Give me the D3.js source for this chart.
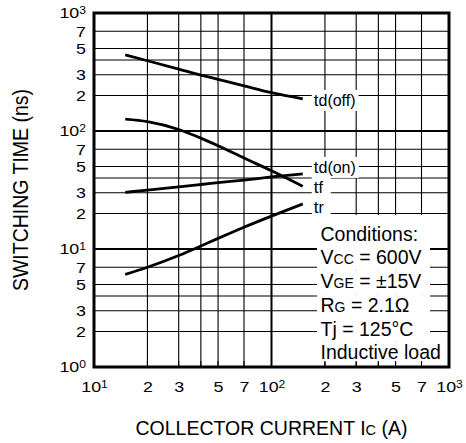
<!DOCTYPE html>
<html><head><meta charset="utf-8">
<script src="https://cdn.jsdelivr.net/npm/d3@7"></script>
<style>
body{margin:0;background:#fff}
svg{display:block;font-family:"Liberation Sans",Arial,Helvetica,sans-serif}
</style>
</head><body>
<svg id="chart" width="466" height="443"></svg>
<script>
// ---- data ----
const current = [15, 20, 30, 40, 50, 70, 100, 150];          // Ic (A)
const tdOff   = [441, 394, 335, 298, 274, 241, 211, 187];    // ns
const tdOn    = [30.2, 31.6, 33.6, 35.2, 36.5, 38.4, 40.8, 43.3];
const tFall   = [126, 120, 103, 87, 75, 59, 46, 34];
const tRise   = [6.1, 7.0, 8.8, 10.6, 12.3, 15.3, 19.0, 24.1];
const seriesNames = [["t","d(off)"], ["t","d(on)"], ["t","f"], ["t","r"]];

const xTickValues = [10, 20, 30, 50, 70, 100, 200, 300, 500, 700, 1000];
const xTickLabels = ["10^1","2","3","5","7","10^2","2","3","5","7","10^3"];
const yTickValues = [1, 2, 3, 5, 7, 10, 20, 30, 50, 70, 100, 200, 300, 500, 700, 1000];
const yTickLabels = ["10^0","2","3","5","7","10^1","2","3","5","7","10^2","2","3","5","7","10^3"];
const gridMultipliers = [2, 3, 4, 5, 7];
const xDecades = [10, 100, 1000];
const yDecades = [1, 10, 100, 1000];

const conditionLines = [
  [["Conditions:", 0]],
  [["V", 0], ["CC", 1], [" = 600V", 0]],
  [["V", 0], ["GE", 1], [" = \u00B115V", 0]],
  [["R", 0], ["G", 1], [" = 2.1\u03A9", 0]],
  [["Tj = 125\u00B0C", 0]],
  [["Inductive load", 0]]
];
const xTitle = [["COLLECTOR CURRENT I", 0], ["C", 1], [" (A)", 0]];
const yTitle = "SWITCHING TIME (ns)";

// ---- layout ----
const svg = d3.select("#chart");
const L = 94, R = 449, T = 13, B = 367;
const x = d3.scaleLog().domain([10, 1000]).range([L, R]);
const y = d3.scaleLog().domain([1, 1000]).range([B, T]);

// grid
const grid = svg.append("g");
const xMinor = xDecades.slice(0, -1).flatMap(d => gridMultipliers.map(m => m * d));
const yMinor = yDecades.slice(0, -1).flatMap(d => gridMultipliers.map(m => m * d));
grid.selectAll(".vx").data(xMinor).join("line")
  .attr("x1", d => x(d)).attr("x2", d => x(d)).attr("y1", T).attr("y2", B)
  .attr("stroke", "#000").attr("stroke-width", 1.1);
grid.selectAll(".hy").data(yMinor).join("line")
  .attr("y1", d => y(d)).attr("y2", d => y(d)).attr("x1", L).attr("x2", R)
  .attr("stroke", "#000").attr("stroke-width", 1.1);
grid.selectAll(".vX").data(xDecades).join("line")
  .attr("x1", d => x(d)).attr("x2", d => x(d)).attr("y1", T).attr("y2", B)
  .attr("stroke", "#000").attr("stroke-width", 2);
grid.selectAll(".hY").data(yDecades).join("line")
  .attr("y1", d => y(d)).attr("y2", d => y(d)).attr("x1", L).attr("x2", R)
  .attr("stroke", "#000").attr("stroke-width", 2);

// curves
const series = [tdOff, tdOn, tFall, tRise];
const line = d3.line().x(d => x(d[0])).y(d => y(d[1])).curve(d3.curveMonotoneX);
svg.append("g").selectAll("path").data(series).join("path")
  .attr("d", s => line(current.map((c, i) => [c, s[i]])))
  .attr("fill", "none").attr("stroke", "#000").attr("stroke-width", 2.8);

// curve labels with white backgrounds
const labelNudge = [1, -7, 1, 3];
const lastX = current[current.length - 1];
const labG = svg.append("g");
series.forEach((s, i) => {
  const g = labG.append("g");
  const bg = g.append("rect").attr("fill", "#fff");
  const t = g.append("text")
    .attr("x", x(lastX) + 11)
    .attr("y", y(s[s.length - 1]) + 6 + labelNudge[i])
    .attr("fill", "#000");
  t.append("tspan").attr("font-size", 17).text(seriesNames[i][0]);
  t.append("tspan").attr("font-size", 16).text(seriesNames[i][1]);
  const bb = t.node().getBBox();
  bg.attr("x", bb.x - 2).attr("y", bb.y - 1)
    .attr("width", Math.max(bb.width, 14) + 5).attr("height", bb.height + 2);
});

// conditions box
const condG = svg.append("g");
const condX = 320.5, condBase0 = 240.7, condStep = 23.7;
conditionLines.forEach((parts, i) => {
  const base = condBase0 + i * condStep;
  const top = i === 0 ? y(20) + 1.5 : base - 17.5;
  const bottom = i === conditionLines.length - 1 ? B - 5 : base + 6.2;
  const right = i === conditionLines.length - 1 ? R : 430;
  condG.append("rect").attr("x", 317).attr("y", top)
    .attr("width", right - 317).attr("height", bottom - top).attr("fill", "#fff");
});
conditionLines.forEach((parts, i) => {
  const t = condG.append("text").attr("x", condX).attr("y", condBase0 + i * condStep)
    .attr("font-size", 19.5).attr("fill", "#000");
  parts.forEach(p => t.append("tspan").attr("font-size", p[1] ? 14 : 19.5).text(p[0]));
});

// small inner ticks along bottom edge
svg.append("g").selectAll("line").data(xMinor).join("line")
  .attr("x1", d => x(d)).attr("x2", d => x(d)).attr("y1", B).attr("y2", B - 6)
  .attr("stroke", "#000").attr("stroke-width", 1.1);

// frame
svg.append("rect").attr("x", L).attr("y", T).attr("width", R - L).attr("height", B - T)
  .attr("fill", "none").attr("stroke", "#000").attr("stroke-width", 3);

// axes (labels only)
function supLabel(sel, label) {
  sel.text(null);
  const parts = label.split("^");
  sel.append("tspan").text(parts[0]);
  if (parts[1]) sel.append("tspan").attr("font-size", 10.5).attr("dy", -4).text(parts[1]);
}
const xAxis = svg.append("g").attr("transform", `translate(0,${B})`)
  .call(d3.axisBottom(x).tickValues(xTickValues).tickFormat((d, i) => xTickLabels[i])
    .tickSize(0).tickPadding(14));
const yAxis = svg.append("g").attr("transform", `translate(${L},0)`)
  .call(d3.axisLeft(y).tickValues(yTickValues).tickFormat((d, i) => yTickLabels[i])
    .tickSize(0).tickPadding(7));
[xAxis, yAxis].forEach(a => {
  a.select(".domain").remove();
  a.selectAll(".tick line").remove();
  a.attr("font-family", null).attr("font-size", 15.5);
  a.selectAll(".tick text").attr("fill", "#000").attr("transform", "scale(1.15,1)")
    .each(function (d, i) { supLabel(d3.select(this), d3.select(this).text()); });
});

// axis titles
const xt = svg.append("text").attr("x", (L + R) / 2).attr("y", 435)
  .attr("text-anchor", "middle").attr("font-size", 19.5).attr("fill", "#000");
xTitle.forEach(p => xt.append("tspan").attr("font-size", p[1] ? 14.5 : 19.5).text(p[0]));
svg.append("text").attr("transform", `translate(28,${(T + B) / 2}) scale(1.15,1) rotate(-90)`)
  .attr("text-anchor", "middle").attr("font-size", 19.5).attr("fill", "#000").text(yTitle);
</script>
</body></html>
